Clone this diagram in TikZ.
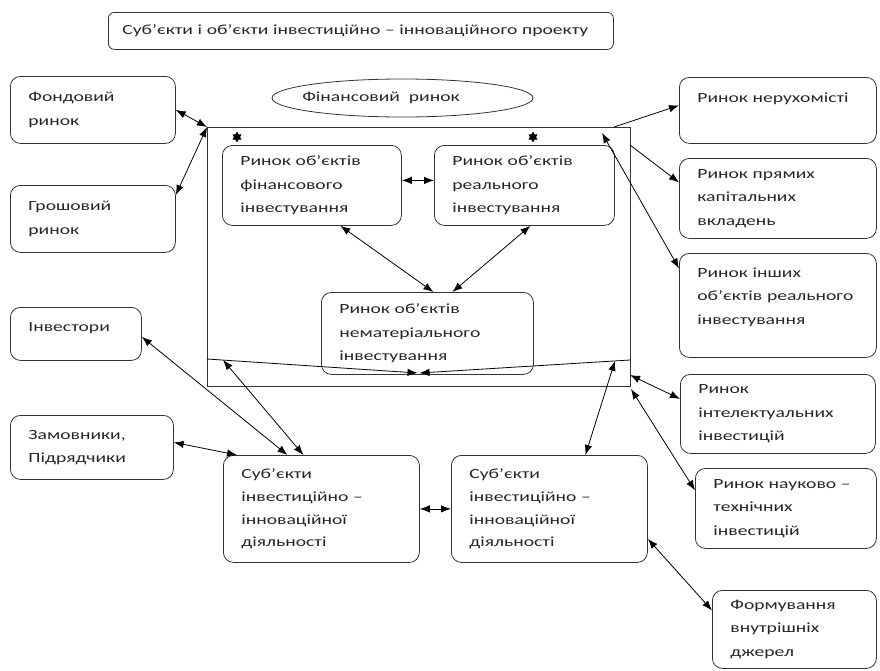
\documentclass[tikz,border=0pt]{standalone}
\usepackage{fontspec}
\setmainfont{Carlito}[FakeStretch=1.4]
\usetikzlibrary{arrows.meta,shapes.geometric,calc}
\begin{document}
\begin{tikzpicture}[x=1pt,y=-1pt,
  font=\fontsize{14}{23.5}\selectfont,
  line width=0.8pt,
  every node/.style={text=black!85},
  box/.style n args={3}{draw=black!80, rounded corners=10pt, anchor=north west,
     inner xsep=18pt, inner ysep=0pt, align=left,
     minimum width=#1pt, minimum height=#2pt, text width=#3pt},
  tip/.tip={Latex[length=10pt,width=7.5pt]},
  arr/.style={tip-tip},
  oneway/.style={-tip}]
\useasboundingbox (0,0) rectangle (880,670);

% title
\node[draw=black!80, rounded corners=6pt, anchor=north west, minimum width=505pt,
  minimum height=37pt, inner xsep=14pt, text width=477pt, align=left] (title) at (108,12)
  {Суб’єкти~і~об’єкти~інвестиційно~–~інноваційного~проекту};

% financial market ellipse
\node[draw=black!80, ellipse, minimum width=261pt, minimum height=38pt, inner sep=0pt] (finmkt) at (402.5,98)
  {\hspace*{-43pt}Фінансовий\ \ ринок};

% big frame
\node[draw=black!80, anchor=north west, minimum width=423pt, minimum height=259pt, inner sep=0pt] (frame) at (207,127) {};

% inner boxes
\node[box={179}{80}{143}] (fin) at (222,145) {Ринок~об’єктів\\фінансового\\інвестування};
\node[box={180}{80}{144}] (real) at (434,145) {Ринок~об’єктів\\реального\\інвестування};
\node[box={212}{82}{176}] (nemat) at (321,292) {Ринок~об’єктів\\нематеріального\\інвестування};

% left boxes
\node[box={165}{67}{129}] (fond) at (10,76) {Фондовий\\ринок};
\node[box={165}{67}{129}] (grosh) at (10,185) {Грошовий\\ринок};
\node[box={131}{53}{95}] (inv) at (10,307) {Інвестори\\[-9pt]\mbox{}};
\node[box={163}{64}{127}] (zam) at (10,415) {Замовники,\\Підрядчики};

% right boxes
\node[box={197}{66}{161}] (ner) at (679,77) {Ринок~нерухомісті\\[2.5pt]\mbox{}};
\node[box={197}{80}{161}] (pry) at (679,158) {Ринок~прямих\\капітальних\\вкладень};
\node[box={197}{104}{161}] (insh) at (679,253) {Ринок~інших\\об’єктів~реального\\інвестування\\[-4.5pt]\mbox{}};
\node[box={195}{79}{159}] (intel) at (680,374) {Ринок\\інтелектуальних\\інвестицій};
\node[box={181}{80}{145}] (nauk) at (695,468) {Ринок~науково~–\\технічних\\інвестицій};
\node[box={164}{78}{128}] (form) at (712,590) {Формування\\внутрішніх\\джерел};

% subjects
\node[box={196}{107}{160}, font=\fontsize{14}{22.7}\selectfont] (subj1) at (223,455) {Суб’єкти\\інвестиційно~–\\інноваційної\\діяльності};
\node[box={196}{107}{160}, font=\fontsize{14}{22.7}\selectfont] (subj2) at (451,455) {Суб’єкти\\інвестиційно~–\\інноваційної\\діяльності};

% coordinates on the frame
\coordinate (fa) at (614,127);
\coordinate (fb) at (630,145);
\coordinate (fc) at (602,133);
\coordinate (fd) at (630,375);
\coordinate (fe) at (631,389);
\coordinate (L1) at (207,359);
\coordinate (R1) at (630,360);
\coordinate (M) at (418.5,373);
\coordinate (Lp) at ($(L1)!0.076!(M)$);
\coordinate (Rp) at ($(R1)!0.071!(M)$);
\coordinate (s1) at (237,137);
\coordinate (s2) at (533,137);

% star markers
\foreach \s in {s1,s2}{
  \fill[shift={(\s)}] (0,-5.5) -- (-4.6,2.7) -- (4.6,2.7) -- cycle;
  \fill[shift={(\s)}] (0,5.5) -- (-4.6,-2.7) -- (4.6,-2.7) -- cycle;
}

% inner converging lines
\draw[oneway] (L1) -- ([xshift=-1pt]M);
\draw[oneway] (R1) -- ([xshift=1pt]M);

% connectors
\draw[arr] (fond.east) -- (frame.north west);
\draw[arr] ([yshift=-10pt]grosh.north east) -- (frame.north west);
\draw[arr] ([yshift=5pt]fin.east) -- ([yshift=5pt]real.west);
\draw[arr] ([xshift=28.5pt]fin.south) -- ([xshift=6pt]nemat.north);
\draw[arr] ([xshift=6pt]real.south) -- ([xshift=25pt]nemat.north);
\draw[oneway] (fa) -- ([yshift=5pt]ner.west);
\draw[oneway] (fb) -- ([yshift=16pt]pry.west);
\draw[arr] (fc) -- ([yshift=37pt]insh.west);
\draw[arr] ([yshift=-3pt]inv.east) -- ([xshift=-34pt]subj1.north);
\draw[arr] (Lp) -- ([xshift=-18pt]subj1.north);
\draw[arr] ([yshift=5pt]zam.east) -- ([xshift=14pt]subj1.north west);
\draw[arr] (subj1.east) -- (subj2.west);
\draw[arr] ([xshift=36pt]subj2.north) -- (Rp);
\draw[arr] (fd) -- ([yshift=15pt]intel.west);
\draw[arr] (fe) -- ([yshift=18pt]nauk.west);
\draw[arr] ([yshift=-30pt]subj2.east) -- ([yshift=19pt]form.west);
\end{tikzpicture}
\end{document}
